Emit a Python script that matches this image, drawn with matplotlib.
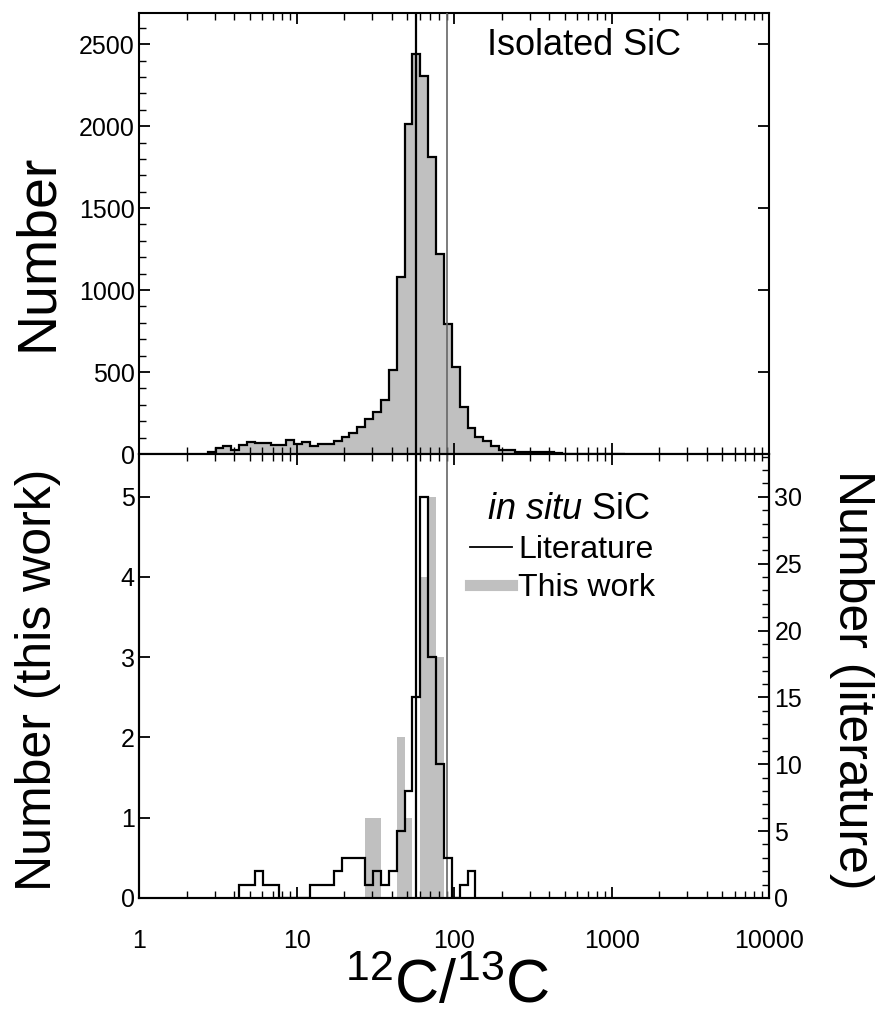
import numpy as np
import matplotlib
matplotlib.use("Agg")
import matplotlib.pyplot as plt
from matplotlib.lines import Line2D
from matplotlib.ticker import FixedLocator, LogLocator, MultipleLocator, NullFormatter

plt.rcParams["font.family"] = ["Liberation Sans", "DejaVu Sans"]
plt.rcParams["mathtext.fontset"] = "custom"
plt.rcParams["mathtext.rm"] = "Liberation Sans"
plt.rcParams["mathtext.it"] = "Liberation Sans:italic"

# bins are evenly spaced in log10(12C/13C)
bin_start = 0.033
bin_width = 0.05

# isolated (acid residue) grains
iso_first_bin = 8
iso_counts = [15, 38, 46, 26, 56, 72, 66, 66, 56, 56, 88, 60, 74, 50, 60, 60,
              80, 102, 127, 163, 214, 255, 328, 513, 1079, 2012, 2441, 2307,
              1814, 1217, 793, 530, 284, 157, 106, 79, 49, 24, 24, 10, 10,
              14, 14, 12, 5, 3, 3, 2, 2, 2, 1, 1, 1]

# in situ grains, literature compilation (right axis)
lit_first_bin = 12
lit_counts = [1, 1, 2, 1, 1, 0, 0, 0, 0, 1, 1, 1, 2, 3, 3, 3, 1, 2, 1, 2,
              5, 8, 15, 30, 18, 10, 3, 0, 1, 2]

# in situ grains, this work (left axis)
work_first_bin = 28
work_counts = [1, 1, 0, 0, 2, 1, 0, 4, 5, 3]

ref_black = 57
ref_solar = 89

x_ticks = [1, 10, 100, 1000, 10000]
x_tick_labels = ["1", "10", "100", "1000", "10000"]

fill_gray = "#c0c0c0"
tick_size = 18


def edges_for(first, counts):
    k = np.arange(first, first + len(counts) + 1)
    return 10 ** (bin_start + bin_width * k)


def style_x(ax):
    ax.set_xscale("log")
    ax.set_xlim(1, 10000)
    ax.xaxis.set_major_locator(FixedLocator(x_ticks))
    ax.xaxis.set_minor_locator(LogLocator(base=10, subs=np.arange(2, 10), numticks=20))
    ax.xaxis.set_minor_formatter(NullFormatter())
    ax.tick_params(axis="x", which="both", direction="in", top=True, bottom=True)
    ax.tick_params(which="major", length=8, width=1.3, labelsize=tick_size)
    ax.tick_params(which="minor", length=5, width=1.0)
    for s in ax.spines.values():
        s.set_linewidth(1.5)


fig = plt.figure(figsize=(8.75, 10.15), dpi=100)
ax_top = fig.add_axes([0.1594, 0.5527, 0.72, 0.4345])
ax_bot = fig.add_axes([0.1594, 0.1153, 0.72, 0.4374])

# --- top panel: isolated SiC ---
style_x(ax_top)
iso_edges = edges_for(iso_first_bin, iso_counts)
ax_top.stairs(iso_counts, iso_edges, fill=True, color=fill_gray, zorder=1)
ax_top.stairs(iso_counts, iso_edges, color="black", lw=1.6, zorder=2)
ax_top.axvline(ref_black, color="black", lw=1.6, zorder=3)
ax_top.axvline(ref_solar, color="#666666", lw=1.2, zorder=3)
ax_top.set_ylim(0, 2690)
ax_top.yaxis.set_major_locator(MultipleLocator(500))
ax_top.yaxis.set_minor_locator(MultipleLocator(100))
ax_top.tick_params(axis="y", which="both", direction="in", left=True, right=True)
ax_top.tick_params(axis="y", which="minor", right=False)
ax_top.tick_params(labelbottom=False)
ax_top.text(0.552, 0.927, "Isolated SiC", transform=ax_top.transAxes,
            fontsize=26, ha="left", va="center")

# --- bottom panel: in situ SiC ---
style_x(ax_bot)
work_edges = edges_for(work_first_bin, work_counts)
ax_bot.stairs(work_counts, work_edges, fill=True, color=fill_gray, zorder=1)
ax_bot.axvline(ref_black, color="black", lw=1.6, zorder=3)
ax_bot.axvline(ref_solar, color="#666666", lw=1.2, zorder=3)
ax_bot.set_ylim(0, 5.53)
ax_bot.yaxis.set_major_locator(MultipleLocator(1))
ax_bot.tick_params(axis="y", which="both", direction="in", left=True, right=False)
ax_bot.tick_params(axis="x", which="major", pad=22)
ax_bot.set_xticklabels(x_tick_labels)

ax_lit = ax_bot.twinx()
lit_edges = edges_for(lit_first_bin, lit_counts)
ax_lit.stairs(lit_counts, lit_edges, color="black", lw=1.6, zorder=2)
ax_lit.set_ylim(0, 33.2)
ax_lit.yaxis.set_major_locator(MultipleLocator(5))
ax_lit.yaxis.set_minor_locator(MultipleLocator(1))
ax_lit.tick_params(axis="y", which="both", direction="in", labelsize=tick_size)
ax_lit.tick_params(axis="y", which="major", length=8, width=1.3)
ax_lit.tick_params(axis="y", which="minor", length=5, width=1.0)
for s in ax_lit.spines.values():
    s.set_linewidth(1.5)

ax_lit.text(0.552, 0.874, r"$\mathit{in\ situ}$ SiC", transform=ax_lit.transAxes,
            fontsize=26, ha="left", va="center")
handles = [Line2D([], [], color="black", lw=1.3),
           Line2D([], [], color=fill_gray, lw=8)]
ax_lit.legend(handles, ["Literature", "This work"], loc="upper left",
              bbox_to_anchor=(0.525, 0.818), frameon=False, fontsize=23,
              handlelength=1.3, handletextpad=0.2, labelspacing=0.25,
              borderpad=0, borderaxespad=0)

# axis titles
fig.text(0.0434, 0.7517, "Number", rotation=90, fontsize=40, ha="center", va="center")
fig.text(0.0434, 0.330, "Number (this work)", rotation=90, fontsize=36,
         ha="center", va="center")
fig.text(0.9737, 0.330, "Number (literature)", rotation=270, fontsize=36,
         ha="center", va="center")
fig.text(0.511, 0.012, r"$^{12}$C/$^{13}$C", fontsize=44, ha="center", va="baseline")

fig.savefig("out.png", dpi=100)
